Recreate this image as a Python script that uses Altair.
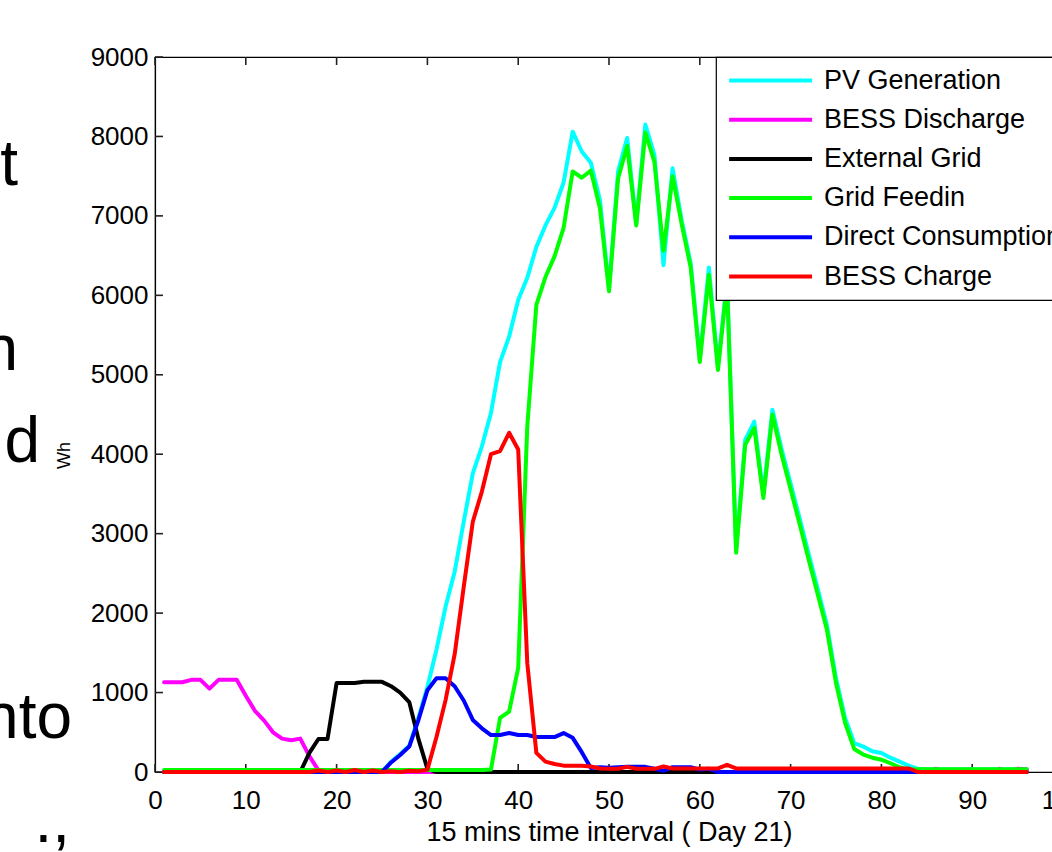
import altair as alt
import pandas as pd

# ---- data ----
interval = list(range(1, 97))

pv_generation = [
    0, 0, 0, 0, 0, 0, 0, 0, 0, 0, 0, 0, 0, 0, 0, 0, 0, 0, 0, 0, 0, 0, 0, 0, 0,
    130, 225, 330, 680, 1070, 1540, 2080, 2520, 3150, 3760, 4100, 4520, 5160, 5480, 5940,
    6220, 6610, 6880, 7100, 7420, 8060, 7810, 7670, 7200, 6080, 7560, 7980, 6900, 8150, 7770,
    6380, 7600, 6950, 6400, 5200, 6350, 5100, 6200, 2790, 4180, 4410, 3500, 4560, 4070, 3630,
    3190, 2740, 2300, 1850, 1180, 680, 365, 320, 260, 240, 180, 130, 80, 40,
    35, 35, 35, 35, 35, 35, 35, 35, 35, 35, 35, 35]

bess_discharge = [
    1130, 1130, 1130, 1160, 1160, 1050, 1160, 1160, 1160, 960, 770, 650, 500, 420, 400, 420, 200, 20,
    0, 0, 0, 0, 0, 0, 0, 0, 0, 0, 0, 0, 0, 0, 0, 0, 0, 0, 0, 0, 0, 0,
    0, 0, 0, 0, 0, 0, 0, 0, 0, 0, 0, 0, 0, 0, 0, 0, 0, 0, 0, 0,
    0, 0, 0, 0, 0, 0, 0, 0, 0, 0, 0, 0, 0, 0, 0, 0, 0, 0, 0, 0,
    0, 0, 0, 0, 0, 40, 0, 0, 0, 0, 0, 0, 40, 0, 40, 30]

external_grid = [
    0, 0, 0, 0, 0, 0, 0, 0, 0, 0, 0, 0, 0, 0, 0, 0,
    240, 415, 415, 1120, 1120, 1120, 1135, 1135, 1135, 1080, 1000, 880, 420, 40,
    0, 0, 0, 0, 0, 0, 0, 0, 0, 0, 0, 0, 0, 0, 0, 0, 0, 0, 0, 0,
    0, 0, 0, 0, 0, 0, 0, 0, 0, 0, 0, 0, 0, 0, 0, 0, 0, 0, 0, 0,
    0, 0, 0, 0, 0, 0, 0, 0, 0, 0, 0, 0, 0, 0, 0, 0, 0, 0, 0, 0,
    0, 0, 0, 0, 0, 0]

grid_feedin = [
    25, 25, 25, 25, 25, 25, 25, 25, 25, 25, 25, 25, 25, 25, 25, 25, 25, 25,
    25, 25, 25, 25, 25, 25, 25, 25, 25, 25, 25, 25, 25, 25, 25, 25, 25, 25,
    30, 680, 760, 1310, 4350, 5880, 6230, 6490, 6850, 7560, 7480, 7570, 7100, 6050,
    7470, 7880, 6880, 8050, 7680, 6560, 7500, 6900, 6350, 5160, 6260, 5060, 6150, 2760,
    4120, 4330, 3450, 4500, 4000, 3560, 3120, 2670, 2230, 1790, 1120, 620, 290, 220,
    180, 155, 110, 60, 30,
    35, 35, 35, 35, 35, 35, 35, 35, 35, 35, 35, 35, 35]

direct_consumption = [
    0, 0, 0, 0, 0, 0, 0, 0, 0, 0, 0, 0, 0, 0, 0, 0, 0, 0, 0, 0, 0, 0, 0, 0, 0,
    120, 215, 320, 650, 1030, 1180, 1180, 1080, 900, 655, 550, 465, 465, 490, 465,
    465, 440, 440, 440, 490, 430, 250, 50, 60, 55, 60, 65, 65, 65, 40, 15, 60, 60, 60, 30, 40,
    0, 0, 0, 0, 0, 0, 0, 0, 0, 0, 0, 0, 0, 0, 0, 0, 0, 0, 0, 0,
    0, 0, 0, 0, 0, 0, 0, 0, 0, 0, 0, 0, 0, 0, 0]

bess_charge = [
    0, 0, 0, 0, 0, 0, 0, 0, 0, 0, 0, 0, 0, 0, 0, 0, 0, 20, 0, 20, 0, 25, 0, 20, 0, 10, 0, 15, 10,
    30, 440, 905, 1480, 2330, 3150, 3530, 4000, 4040, 4270, 4060, 1370, 240, 130, 100, 80,
    80, 80, 70, 45, 40, 40, 65, 40, 40, 40, 70,
    45, 45, 45, 45, 45, 45, 90, 45, 45, 45, 45, 45, 45, 45, 45, 45, 45, 45, 45, 45, 45, 45, 45, 45, 45, 45, 45,
    0, 0, 0, 0, 0, 0, 0, 0, 0, 0, 0, 0, 0]

series_names = ["PV Generation", "BESS Discharge", "External Grid",
                "Grid Feedin", "Direct Consumption", "BESS Charge"]
series_colors = ["#00FFFF", "#FF00FF", "#000000", "#00FF00", "#0000FF", "#FF0000"]
series_values = [pv_generation, bess_discharge, external_grid,
                 grid_feedin, direct_consumption, bess_charge]

x_ticks = [0, 10, 20, 30, 40, 50, 60, 70, 80, 90, 100]
y_ticks = [0, 1000, 2000, 3000, 4000, 5000, 6000, 7000, 8000, 9000]

x_title = "15 mins time interval ( Day 21)"
y_title = "Wh"

# cropped slide text visible at the left edge of the picture
fragments = ["t", "n", "d", "nto", ".,"]

rows = []
for name, vals in zip(series_names, series_values):
    for t, v in zip(interval, vals):
        rows.append({"t": t, "wh": v, "series": name})
df = pd.DataFrame(rows)

FONT = "Liberation Sans"
W, H = 908, 715
TICK = 8  # inward tick length in px

x_scale = alt.Scale(domain=[0, 100], nice=False, zero=False)
y_scale = alt.Scale(domain=[0, 9000], nice=False)


def x_axis():
    return alt.Axis(values=x_ticks, title=x_title, format="d", labelFlush=False)


def y_axis():
    return alt.Axis(values=y_ticks, title=y_title, format="d", labelFlush=False,
                    titleX=-91, titleY=398, titleAngle=270,
                    titleAlign="center", titleBaseline="middle",
                    titleFontSize=18, titleFontWeight="normal")


legend = alt.Legend(
    title=None, orient="none", legendX=561, legendY=0, direction="vertical",
    fillColor="white", strokeColor="black", padding=10,
    symbolType="M-1,0H7", symbolSize=430, symbolStrokeWidth=4,
    labelFont=FONT, labelFontSize=27, labelColor="black", labelLimit=600,
    labelOffset=71, rowPadding=11.2,
)
color_enc = alt.Color("series:N",
                      scale=alt.Scale(domain=series_names, range=series_colors),
                      legend=legend)

# inward tick marks (MATLAB style), placed through the axis scales
tick_x_df = pd.DataFrame({"t": x_ticks})
tick_y_df = pd.DataFrame({"wh": y_ticks})
top_ticks = alt.Chart(tick_x_df).mark_rule(color="#222222", strokeWidth=1.6).encode(
    x=alt.X("t:Q", scale=x_scale, axis=x_axis()),
    y=alt.value(0), y2=alt.value(TICK))
bottom_ticks = alt.Chart(tick_x_df).mark_rule(color="#222222", strokeWidth=1.6).encode(
    x=alt.X("t:Q", scale=x_scale, axis=x_axis()),
    y=alt.value(H), y2=alt.value(H - TICK))
left_ticks = alt.Chart(tick_y_df).mark_rule(color="#222222", strokeWidth=1.6).encode(
    y=alt.Y("wh:Q", scale=y_scale, axis=y_axis()),
    x=alt.value(0), x2=alt.value(TICK))

layers = []
for name in series_names:
    layers.append(
        alt.Chart(df).transform_filter(alt.datum.series == name)
        .mark_line(strokeWidth=4, strokeJoin="round", strokeCap="round")
        .encode(x=alt.X("t:Q", scale=x_scale, axis=x_axis()),
                y=alt.Y("wh:Q", scale=y_scale, axis=y_axis()),
                color=color_enc)
    )

# fragments of slide text at the left edge
frag_pos = [(18, 185), (18, 370), (40, 462), (72, 738), (70, 842)]
frag_layers = []
for s, (px, py) in zip(fragments, frag_pos):
    frag_layers.append(
        alt.Chart(pd.DataFrame({"s": [s]})).mark_text(
            align="right", baseline="alphabetic", font=FONT, fontSize=64, color="black"
        ).encode(x=alt.value(px - 155), y=alt.value(py - 57), text="s:N")
    )

chart = alt.layer(top_ticks, bottom_ticks, left_ticks, *layers, *frag_layers).properties(
    width=W, height=H,
    autosize=alt.AutoSizeParams(type="none"),
    padding={"left": 155, "top": 57, "right": -11, "bottom": 80},
    background="white",
).configure_view(
    stroke="black", strokeWidth=1.2
).configure_axis(
    grid=False, ticks=False, domain=True, domainColor="black", domainWidth=1.2,
    labelFont=FONT, labelFontSize=26, labelColor="black",
    titleFont=FONT, titleFontSize=27, titleColor="black", titleFontWeight="normal",
).configure_axisX(
    labelPadding=15, titlePadding=6,
).configure_axisY(
    labelPadding=7,
).configure_legend(
    strokeWidth=1.2,
)

chart.save("out.html", embed_options={"renderer": "svg", "actions": False})
